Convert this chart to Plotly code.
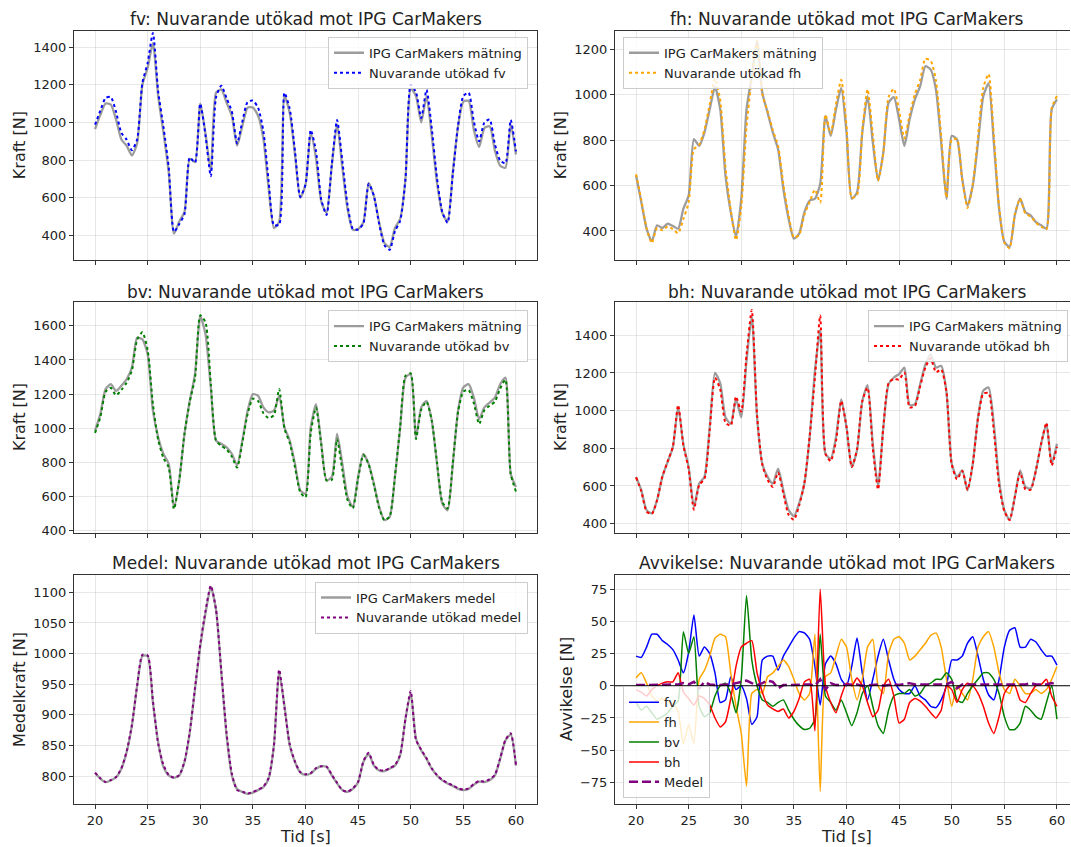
import plotly.graph_objects as go

# ---------------- data (0.5 s grid) ----------------
t = [round(20 + 0.5 * i, 1) for i in range(81)]

fv_ipg = [965, 1040, 1100, 1095, 1015, 910, 877, 825, 890, 1200,
          1290, 1420, 1140, 947, 737, 410, 474, 526, 807, 790,
          1100, 940, 745, 1158, 1175, 1105, 1035, 877, 982, 1079,
          1079, 1035, 912, 649, 440, 474, 1140, 1050, 830, 600,
          670, 945, 810, 580, 520, 772, 990, 760, 540, 430,
          435, 470, 680, 610, 470, 360, 340, 440, 490, 700,
          1180, 1140, 1000, 1140, 930, 680, 520, 475, 737, 980,
          1110, 1115, 960, 870, 970, 980, 850, 770, 760, 990,
          830]
fv_dev = [23, 22, 30, 40, 40, 35, 32, 28, 20, 10,
          26, 55, 23, 30, 25, 10, -13, -11, 7, -3,
          0, -10, -30, -24, 20, 23, 23, 12, 23, 30,
          37, 42, 41, 36, 15, -15, 17, 23, 17, 5,
          0, 15, 37, 10, -11, 5, 23, 36, 20, 5,
          -3, -6, -6, 0, -8, -11, -16, -17, -11, 0,
          20, 20, 23, 33, 38, 23, 5, -7, -11, 5,
          30, 43, 45, 30, 30, 36, 34, 28, 23, 23,
          16]

fh_ipg = [644, 527, 410, 355, 425, 413, 432, 422, 410, 498,
          556, 805, 775, 834, 936, 1035, 936, 644, 483, 375,
          542, 936, 1082, 1240, 1009, 921, 834, 760, 585, 454,
          366, 388, 483, 534, 542, 607, 906, 819, 936, 1030,
          834, 542, 570, 834, 994, 790, 622, 746, 965, 990,
          892, 775, 892, 980, 1038, 1126, 1111, 1023, 790, 542,
          819, 804, 629, 512, 600, 790, 994, 1050, 790, 498,
          352, 330, 469, 542, 483, 469, 439, 425, 410, 936,
          980]
fh_dev = [6, 10, 2, -8, -12, -10, -12, -14, -20, -45,
          -30, -45, 5, 12, 23, 37, 40, 38, 10, -16,
          -37, -78, -6, -3, -6, 7, 10, 15, 20, 15,
          5, -6, -11, -6, 40, -82, 7, 10, 23, 36,
          30, 5, -11, 5, 30, 36, 0, -6, 25, 36,
          38, 33, 20, 23, 28, 33, 39, 41, 30, 5,
          -16, 0, -6, -11, 5, 30, 38, 42, 30, 10,
          -3, -6, 5, 0, -6, -6, -3, -6, -3, 5,
          15]

bv_ipg = [986, 1083, 1229, 1258, 1219, 1249, 1287, 1355, 1530, 1520,
          1433, 1103, 948, 850, 792, 535, 695, 967, 1161, 1317,
          1656, 1550, 1239, 928, 909, 889, 850, 783, 928, 1103,
          1200, 1190, 1122, 1093, 1103, 1190, 1006, 928, 792, 637,
          617, 1006, 1142, 909, 695, 715, 967, 792, 598, 540,
          715, 850, 792, 676, 540, 462, 482, 715, 1006, 1297,
          1317, 948, 1122, 1161, 1045, 792, 559, 520, 792, 1103,
          1239, 1258, 1180, 1054, 1122, 1151, 1180, 1258, 1297, 734,
          656]
bv_dev = [-13, -19, -16, -21, -26, -24, -21, -16, -12, 42,
          25, 38, -16, -24, -21, -8, 0, 2, -6, -21,
          5, 70, 20, 0, -11, -13, -16, -13, -11, -19,
          -26, -31, -34, -33, -26, 40, -8, -13, -19, -11,
          -21, -31, -21, -6, 0, -16, -31, -37, -19, -8,
          -6, -6, -3, -8, -6, 0, 2, 5, 5, 10,
          5, -11, -13, -6, 0, 5, 10, 10, 5, -6,
          -24, -34, -34, -29, -16, -19, -24, -26, -13, 0,
          -26]

bh_ipg = [648, 577, 472, 454, 525, 648, 727, 806, 1020, 820,
          700, 489, 613, 648, 912, 1200, 1145, 965, 930, 1060,
          965, 1264, 1500, 965, 718, 648, 613, 692, 577, 472,
          440, 507, 613, 859, 1211, 1430, 771, 745, 859, 1060,
          912, 700, 789, 1050, 1135, 824, 600, 912, 1141, 1176,
          1194, 1229, 1030, 1035, 1141, 1246, 1299, 1229, 1238, 1100,
          718, 648, 683, 577, 718, 965, 1106, 1123, 930, 630,
          472, 419, 542, 683, 595, 586, 683, 824, 930, 718,
          824]
bh_dev = [-3, -5, -8, -3, 0, 2, 3, 3, 10, -5,
          -10, -15, -8, -10, -15, -25, -32, -28, -10, 15,
          30, 33, 35, 10, -5, -15, -18, -20, -18, -25,
          -20, -10, 3, 5, -35, 75, 0, -13, -21, -8,
          2, 0, 6, 0, -13, -24, -19, 0, 5, -8,
          -29, -26, -13, -10, -12, -16, -21, -25, -19, 0,
          -3, -13, -3, 2, 0, -6, -16, -29, -37, -24,
          -6, 0, 0, -11, -13, -6, 0, 1, 5, -8,
          -16]

medel_ipg = [805, 796, 790, 793, 798, 812, 839, 882, 947, 996,
             996, 920, 855, 815, 801, 797, 801, 823, 871, 942,
             1012, 1066, 1109, 1071, 969, 866, 801, 779, 774, 771,
             773, 777, 782, 796, 850, 969, 915, 850, 823, 806,
             802, 804, 812, 816, 815, 801, 788, 777, 774, 779,
             790, 823, 836, 817, 809, 808, 812, 817, 834, 893,
             936, 861, 842, 828, 812, 801, 793, 788, 784, 779,
             777, 779, 786, 791, 790, 793, 801, 828, 858, 868,
             817]
medel_dev = [0.5, 0.5, 0.5, 0.5, 0.5, 0.5, 1, 1, 1, 2,
             1, 3, -2, 3, 1, 0.5, 0.5, 1, 1, 2,
             3, 4, 2, 0.5, 2, 4, 3, -2, 0.5, 0.5,
             1, 1, 1, 1, 0, 5, -3, 2, 0.5, 0.5,
             1, 1, 1, 0, 0.5, 1, 1, 0, 0.5, 1,
             0.5, 1, 2, 1, 1, 1, 1, 1, 1, 1,
             3, -2, 1, 1, 0.5, 0.5, 1, 0.5, 1, 1,
             1, 1, 1, 1, 1, 2, 1, 1, 1, 2,
             1]

x_ticks = [20, 25, 30, 35, 40, 45, 50, 55, 60]

# ---------------- layout helpers ----------------
W, H = 1071, 847
FONT = "DejaVu Sans"
GRAY = "rgba(128,128,128,0.78)"
SM = 0.6


def xdom(a, b):
    return [a / W, b / W]


def ydom(top, bottom):
    return [1 - bottom / H, 1 - top / H]


def add(vals_a, vals_b):
    return [a + b for a, b in zip(vals_a, vals_b)]


fig = go.Figure()

panels = [
    (1, fv_ipg, fv_dev, "blue", "fv", "legend"),
    (2, fh_ipg, fh_dev, "orange", "fh", "legend2"),
    (3, bv_ipg, bv_dev, "green", "bv", "legend3"),
    (4, bh_ipg, bh_dev, "red", "bh", "legend4"),
]
for idx, ipg, dev, col, nm, lg in panels:
    xa = "x" if idx == 1 else f"x{idx}"
    ya = "y" if idx == 1 else f"y{idx}"
    fig.add_trace(go.Scatter(x=t, y=ipg, mode="lines", name="IPG CarMakers mätning",
                             line=dict(color=GRAY, width=2.3, shape="spline", smoothing=SM),
                             xaxis=xa, yaxis=ya, legend=lg))
    fig.add_trace(go.Scatter(x=t, y=add(ipg, dev), mode="lines", name=f"Nuvarande utökad {nm}",
                             line=dict(color=col, width=2, dash="dot", shape="spline", smoothing=SM),
                             xaxis=xa, yaxis=ya, legend=lg))

fig.add_trace(go.Scatter(x=t, y=medel_ipg, mode="lines", name="IPG CarMakers medel",
                         line=dict(color=GRAY, width=2.3, shape="spline", smoothing=SM),
                         xaxis="x5", yaxis="y5", legend="legend5"))
fig.add_trace(go.Scatter(x=t, y=add(medel_ipg, medel_dev), mode="lines", name="Nuvarande utökad medel",
                         line=dict(color="purple", width=2, dash="dot", shape="spline", smoothing=SM),
                         xaxis="x5", yaxis="y5", legend="legend5"))

for dev, col, nm in [(fv_dev, "blue", "fv"), (fh_dev, "orange", "fh"),
                     (bv_dev, "green", "bv"), (bh_dev, "red", "bh")]:
    fig.add_trace(go.Scatter(x=t, y=dev, mode="lines", name=nm,
                             line=dict(color=col, width=1.5, shape="spline", smoothing=0.5),
                             xaxis="x6", yaxis="y6", legend="legend6"))
fig.add_trace(go.Scatter(x=t, y=medel_dev, mode="lines", name="Medel",
                         line=dict(color="purple", width=2.5, dash="9px,4px"),
                         xaxis="x6", yaxis="y6", legend="legend6"))

# ---------------- axes ----------------
LEFT = xdom(74, 537)
RIGHT = xdom(615, 1070)
ROWS = [ydom(31, 262), ydom(304, 536), ydom(578, 809)]

axis_common = dict(showline=True, linecolor="#333333", linewidth=1, ticks="outside", ticklen=4,
                   tickcolor="#333333", showgrid=True, gridcolor="rgba(176,176,176,0.3)",
                   gridwidth=1, zeroline=False, tickfont=dict(family=FONT, size=13, color="#222222"))

yranges = {1: [268, 1486], 2: [270, 1282], 3: [388, 1738], 4: [351, 1576],
           5: [754, 1129], 6: [-92, 86.3]}
yticks = {1: [400, 600, 800, 1000, 1200, 1400],
          2: [400, 600, 800, 1000, 1200],
          3: [400, 600, 800, 1000, 1200, 1400, 1600],
          4: [400, 600, 800, 1000, 1200, 1400],
          5: [800, 850, 900, 950, 1000, 1050, 1100],
          6: [-75, -50, -25, 0, 25, 50, 75]}

layout_axes = {}
for idx in range(1, 7):
    col = (idx - 1) % 2
    row = (idx - 1) // 2
    xname = "xaxis" if idx == 1 else f"xaxis{idx}"
    yname = "yaxis" if idx == 1 else f"yaxis{idx}"
    xa = "x" if idx == 1 else f"x{idx}"
    ya = "y" if idx == 1 else f"y{idx}"
    xr = [18, 62] if col == 0 else [18, 61.24]
    layout_axes[xname] = dict(axis_common, domain=LEFT if col == 0 else RIGHT, anchor=ya,
                              range=xr, tickvals=x_ticks, showticklabels=(row == 2),
                              mirror=True, ticklabelstandoff=0)
    layout_axes[yname] = dict(axis_common, domain=ROWS[row], anchor=xa, range=yranges[idx],
                              tickvals=yticks[idx], mirror=(col == 0))
fig.update_layout(**layout_axes)

# ---------------- titles and labels ----------------
ann = []
titles = [
    (305.5, 19.5, "fv: Nuvarande utökad mot IPG CarMakers"),
    (846.5, 19.5, "fh: Nuvarande utökad mot IPG CarMakers"),
    (305.5, 293.5, "bv: Nuvarande utökad mot IPG CarMakers"),
    (846.5, 293.5, "bh: Nuvarande utökad mot IPG CarMakers"),
    (305.5, 566.5, "Medel: Nuvarande utökad mot IPG CarMakers"),
    (846.5, 566.5, "Avvikelse: Nuvarande utökad mot IPG CarMakers"),
]
for xp, yp, txt in titles:
    ann.append(dict(x=xp / W, y=1 - yp / H, xref="paper", yref="paper", text=txt, showarrow=False,
                    xanchor="center", yanchor="middle",
                    font=dict(family=FONT, size=17, color="#222222")))
ylabels = [
    (19.5, 146.5, "Kraft [N]"), (560.5, 146.5, "Kraft [N]"),
    (19.5, 420, "Kraft [N]"), (560.5, 420, "Kraft [N]"),
    (19.5, 693.5, "Medelkraft [N]"), (566.5, 693.5, "Avvikelse [N]"),
]
for xp, yp, txt in ylabels:
    ann.append(dict(x=xp / W, y=1 - yp / H, xref="paper", yref="paper", text=txt, showarrow=False,
                    textangle=-90, xanchor="center", yanchor="middle",
                    font=dict(family=FONT, size=16, color="#222222")))
for xp in (305.5, 846.5):
    ann.append(dict(x=xp / W, y=0, xref="paper", yref="paper", text="Tid [s]",
                    showarrow=False, xanchor="center", yanchor="bottom", yshift=-6,
                    font=dict(family=FONT, size=16, color="#222222")))

legend_common = dict(bgcolor="rgba(255,255,255,0.8)", bordercolor="#cccccc", borderwidth=1,
                     font=dict(family=FONT, size=13, color="#222222"), tracegroupgap=0,
                     itemclick=False, itemdoubleclick=False)

fig.update_layout(
    width=W, height=H, margin=dict(l=0, r=0, t=0, b=0),
    paper_bgcolor="white", plot_bgcolor="white",
    font=dict(family=FONT, size=13, color="#222222"),
    annotations=ann,
    showlegend=True,
    legend=dict(legend_common, x=528 / W, y=1 - 37 / H, xanchor="right", yanchor="top"),
    legend2=dict(legend_common, x=623 / W, y=1 - 37 / H, xanchor="left", yanchor="top"),
    legend3=dict(legend_common, x=528 / W, y=1 - 312 / H, xanchor="right", yanchor="top"),
    legend4=dict(legend_common, x=1068 / W, y=1 - 312 / H, xanchor="right", yanchor="top"),
    legend5=dict(legend_common, x=528 / W, y=1 - 585 / H, xanchor="right", yanchor="top"),
    legend6=dict(legend_common, x=623 / W, y=1 - 803 / H, xanchor="left", yanchor="bottom"),
    shapes=[dict(type="line", xref="x6 domain", yref="y6", x0=0, x1=1, y0=0, y1=0,
                 line=dict(color="black", width=1.2), layer="above")],
)

fig.write_html("out.html")
